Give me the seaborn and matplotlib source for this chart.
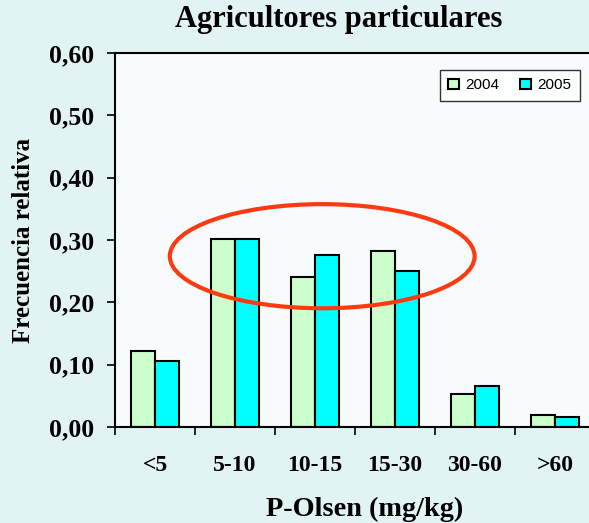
import matplotlib
matplotlib.use("Agg")
import matplotlib.pyplot as plt
import seaborn as sns
import pandas as pd
from matplotlib.patches import Ellipse
from matplotlib.ticker import FixedLocator, FuncFormatter

categories = ["<5", "5-10", "10-15", "15-30", "30-60", ">60"]
v2004 = [0.122, 0.302, 0.241, 0.282, 0.053, 0.019]
v2005 = [0.106, 0.302, 0.276, 0.250, 0.066, 0.016]
years = ["2004", "2005"]

df = pd.DataFrame({
    "cat": categories * 2,
    "year": [years[0]] * len(categories) + [years[1]] * len(categories),
    "val": v2004 + v2005,
})

sns.set_style("white")
plt.rcParams["font.family"] = ["Liberation Serif", "DejaVu Serif"]
plt.rcParams["text.color"] = "black"
plt.rcParams["axes.labelcolor"] = "black"
plt.rcParams["xtick.color"] = "black"
plt.rcParams["ytick.color"] = "black"

fig = plt.figure(figsize=(5.89, 5.23), dpi=100)
fig.patch.set_facecolor("#e2f3f3")
ax = fig.add_axes([115 / 589, 96 / 523, 480 / 589, 374 / 523])
ax.set_facecolor("#f8fbfc")

sns.barplot(data=df, x="cat", y="val", hue="year", order=categories,
            hue_order=years, palette=["#ccffcc", "#00ffff"], saturation=1,
            edgecolor="black", linewidth=1.5, width=0.6, gap=0,
            ax=ax, legend=True)

ax.set_xlim(-0.5, 5.5)
ax.set_ylim(0, 0.6)
ax.set_yticks([0, 0.1, 0.2, 0.3, 0.4, 0.5, 0.6])
ax.yaxis.set_major_formatter(FuncFormatter(lambda v, p: f"{v:.2f}".replace(".", ",")))
ax.tick_params(axis="y", direction="out", length=6, width=1.2, color="black",
               labelsize=18.5, pad=9, left=True, labelcolor="black")
for t in ax.get_yticklabels():
    t.set_fontweight("bold")

ax.set_xticks(range(len(categories)))
ax.set_xticklabels(categories, fontsize=17, fontweight="bold")
ax.tick_params(axis="x", length=0, pad=20, labelcolor="black")
ax.xaxis.set_minor_locator(FixedLocator([i - 0.5 for i in range(len(categories) + 1)]))
ax.tick_params(axis="x", which="minor", direction="out", length=6, width=1.2,
               color="black", bottom=True)

for s in ["left", "bottom", "top"]:
    ax.spines[s].set_color("black")
    ax.spines[s].set_linewidth(1.5)
ax.spines["right"].set_visible(False)

ax.set_xlabel("P-Olsen (mg/kg)", fontsize=20.3, fontweight="bold", color="black")
ax.xaxis.set_label_coords((365 - 115) / 480, (427 - 516) / 374)
ax.xaxis.label.set_va("baseline")
ax.set_ylabel("Frecuencia relativa", fontsize=18, fontweight="bold", labelpad=10,
              color="black")
ax.set_title("Agricultores particulares", fontsize=22, fontweight="bold", pad=0,
             color="black", x=(339 - 115) / 480, y=(427 - 27) / 374)

ell = Ellipse((2.09, 0.274), width=3.81, height=0.167, fill=False,
              edgecolor="#ff3a10", linewidth=3, zorder=5)
ax.add_patch(ell)

handles, labels = ax.get_legend_handles_labels()
leg = ax.legend(handles, labels, loc="upper right", bbox_to_anchor=(0.968, 0.955),
                borderaxespad=0,
                ncol=2, frameon=True, fancybox=False, edgecolor="black",
                prop={"family": "Liberation Sans", "size": 11},
                handlelength=0.7, handleheight=0.7, handletextpad=0.4,
                columnspacing=1.4, borderpad=0.55)
leg.get_frame().set_linewidth(1.0)
for t in leg.get_texts():
    t.set_color("black")

fig.savefig("out.png", dpi=100, facecolor=fig.get_facecolor())
